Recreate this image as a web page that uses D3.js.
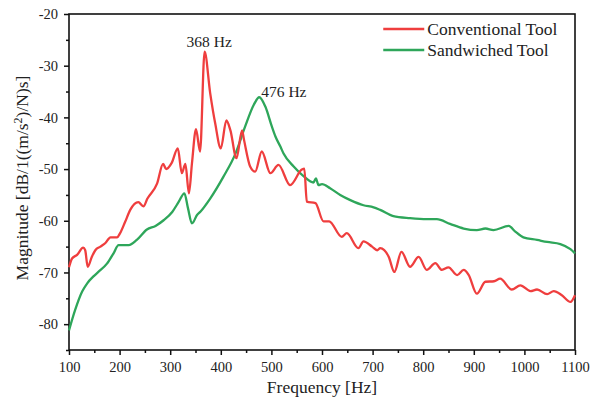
<!DOCTYPE html>
<html>
<head>
<meta charset="utf-8">
<script src="https://cdn.jsdelivr.net/npm/d3@7"></script>
<style>
  body { margin: 0; background: #fff; }
</style>
</head>
<body>
<svg class="frf" width="598" height="398"></svg>
<script>
// frequency / magnitude pairs
const convFreq = [100, 106, 116, 128, 132, 137, 145, 152, 162, 172, 182, 195, 201, 211, 221, 237, 247, 255, 274, 286,
  292, 303, 315, 323, 330, 337, 343, 351, 359, 368, 379, 389, 400, 411, 419, 431, 442, 446, 458, 468,
  481, 498, 514, 537, 560, 565, 570, 587, 603, 614, 639, 649, 672, 682, 699, 709, 715, 732, 743, 757,
  774, 791, 807, 824, 837, 850, 867, 880, 890, 906, 923, 940, 952, 975, 992, 1012, 1025, 1045, 1058, 1074,
  1091, 1100];
const convMag = [-69, -67.3, -66.6, -65.2, -65.7, -68.9, -67, -65.7, -65, -64.3, -63.2, -63.2, -62.4, -60.2, -57.9, -56.4, -57.2, -55.7, -52.8, -49,
  -50, -48.8, -46, -50.8, -49, -54.7, -48.9, -42.3, -46.6, -27.3, -35.3, -41.2, -46, -40.6, -42.5, -47.9, -42.5, -44.4, -49.5, -50.5,
  -46.6, -50.8, -49.2, -53.1, -50.1, -49.9, -56.3, -56.6, -60.1, -60.1, -63.1, -62.4, -65.3, -64, -65, -65.7, -65.3, -67, -69.9, -66,
  -68.9, -67, -69.5, -68.2, -69.5, -69, -70.5, -69.5, -70.5, -74.1, -71.8, -71.7, -71.2, -73.3, -72.5, -73.6, -73.3, -74.2, -73.6, -74.4,
  -75.7, -74.4];

const sandFreq = [100, 112, 126, 136, 149, 158, 175, 188, 198, 218, 234, 254, 271, 287, 304, 317, 328, 335, 343, 353,
  360, 379, 405, 429, 448, 465, 476, 488, 501, 508, 518, 524, 544, 564, 583, 588, 593, 600, 616, 636,
  656, 682, 702, 715, 741, 774, 807, 827, 853, 880, 906, 923, 939, 969, 982, 998, 1025, 1045, 1071, 1091,
  1100];
const sandMag = [-81.2, -77.3, -73.7, -72.1, -70.7, -69.9, -68.3, -66.3, -64.7, -64.7, -63.7, -61.7, -61, -59.9, -58.3, -56.3, -54.7, -57.5, -60.5, -58.9,
  -58.2, -55.7, -51.5, -47, -41.8, -37.6, -36.1, -37.9, -41.8, -43.7, -45.7, -47, -49.5, -51.4, -52.6, -51.8, -53.1, -52.9, -53.7, -55,
  -56, -57, -57.4, -57.9, -59.1, -59.5, -59.7, -59.7, -60.6, -61.5, -61.8, -61.5, -61.8, -61, -62.1, -63.2, -63.7, -64.1, -64.5, -65.5,
  -66.3];

const seriesNames = ['Conventional Tool', 'Sandwiched Tool'];
const seriesCols = ['#ef3e3e', '#2ea65a'];
const xTicks = [100, 200, 300, 400, 500, 600, 700, 800, 900, 1000, 1100];
const yTicks = [-80, -70, -60, -50, -40, -30, -20];
const peaks = [{f: 368, label: '368 Hz'}, {f: 476, label: '476 Hz'}];

const serif = '"Liberation Serif", "Times New Roman", serif';

function draw(){
  const svg = d3.select('svg.frf');
  const margin = {top: 14, right: 23, bottom: 48, left: 69};
  const width = 598 - margin.left - margin.right;
  const height = 398 - margin.top - margin.bottom;

  const x = d3.scaleLinear().domain([100, 1100]).range([0, width]);
  const y = d3.scaleLinear().domain([-85, -20]).range([height, 0]);

  const g = svg.append('g').attr('transform', `translate(${margin.left},${margin.top})`);

  // minor ticks first, then the labelled ones
  const xMinor = d3.axisBottom(x).tickValues(d3.range(150, 1100, 100)).tickSize(3).tickFormat('');
  const yMinor = d3.axisLeft(y).tickValues(d3.range(-85, -20, 10)).tickSize(3).tickFormat('');
  g.append('g').attr('transform', `translate(0,${height})`).call(xMinor);
  g.append('g').call(yMinor);

  const fmt = d => String(d);
  const xAxis = g.append('g')
    .attr('transform', `translate(0,${height})`)
    .call(d3.axisBottom(x).tickValues(xTicks).tickSize(5).tickPadding(7).tickFormat(fmt));
  const yAxis = g.append('g')
    .call(d3.axisLeft(y).tickValues(yTicks).tickSize(5).tickPadding(6).tickFormat(fmt));

  g.selectAll('.domain').remove();
  g.selectAll('g').attr('font-family', null).attr('font-size', null);
  g.selectAll('.tick line').style('stroke', '#111').style('stroke-width', 1.5);
  xAxis.selectAll('text').style('font-size', '14.5px').style('font-family', serif).style('fill', '#222');
  yAxis.selectAll('text').style('font-size', '14.5px').style('font-family', serif).style('fill', '#222');

  // frame
  g.append('rect')
    .attr('width', width)
    .attr('height', height)
    .style('fill', 'none')
    .style('stroke', '#111')
    .style('stroke-width', 1.6);

  const line = d3.line()
    .x(d => x(d[0]))
    .y(d => y(d[1]))
    .curve(d3.curveMonotoneX);

  const series = [
    d3.zip(convFreq, convMag),
    d3.zip(sandFreq, sandMag)
  ];

  // green drawn first so red sits on top like the original
  [1, 0].forEach(i => {
    g.append('path')
      .datum(series[i])
      .attr('d', line)
      .style('fill', 'none')
      .style('stroke', seriesCols[i])
      .style('stroke-width', 2.3)
      .style('stroke-linejoin', 'round');
  });

  // peak labels
  const peakMag = [d3.max(convMag), d3.max(sandMag)];
  g.selectAll('text.peak')
    .data(peaks)
    .enter()
    .append('text')
    .attr('class', 'peak')
    .attr('x', (d, i) => i == 0 ? x(d.f) - 18 : x(d.f) + 2)
    .attr('y', (d, i) => y(peakMag[i]) - (i == 0 ? 4.5 : 0.5))
    .style('font-family', serif)
    .style('font-size', '15.5px')
    .style('fill', '#222')
    .text(d => d.label);

  // legend
  const leg = g.append('g').attr('transform', `translate(${x(725) - 2},${15})`);
  seriesNames.forEach((name, i) => {
    leg.append('line')
      .attr('x1', 0).attr('x2', 41)
      .attr('y1', i * 21).attr('y2', i * 21)
      .style('stroke', seriesCols[i])
      .style('stroke-width', 2.4);
    leg.append('text')
      .attr('x', 44)
      .attr('y', i * 21 + 6)
      .style('font-family', serif)
      .style('font-size', '17.5px')
      .style('fill', '#222')
      .text(name);
  });

  // axis titles
  svg.append('text')
    .attr('x', margin.left + width / 2)
    .attr('y', 393)
    .attr('text-anchor', 'middle')
    .style('font-family', serif)
    .style('font-size', '17.5px')
    .style('fill', '#222')
    .text('Frequency [Hz]');

  const yTitle = svg.append('text')
    .attr('transform', `translate(28,${margin.top + height / 2 - 4}) rotate(-90)`)
    .attr('text-anchor', 'middle')
    .style('font-family', serif)
    .style('font-size', '17.5px')
    .style('fill', '#222');
  yTitle.append('tspan').text('Magnitude [dB/1((m/s');
  yTitle.append('tspan').attr('dy', -6).style('font-size', '12px').text('2');
  yTitle.append('tspan').attr('dy', 6).text(')/N)s]');
}

draw();
</script>
</body>
</html>
